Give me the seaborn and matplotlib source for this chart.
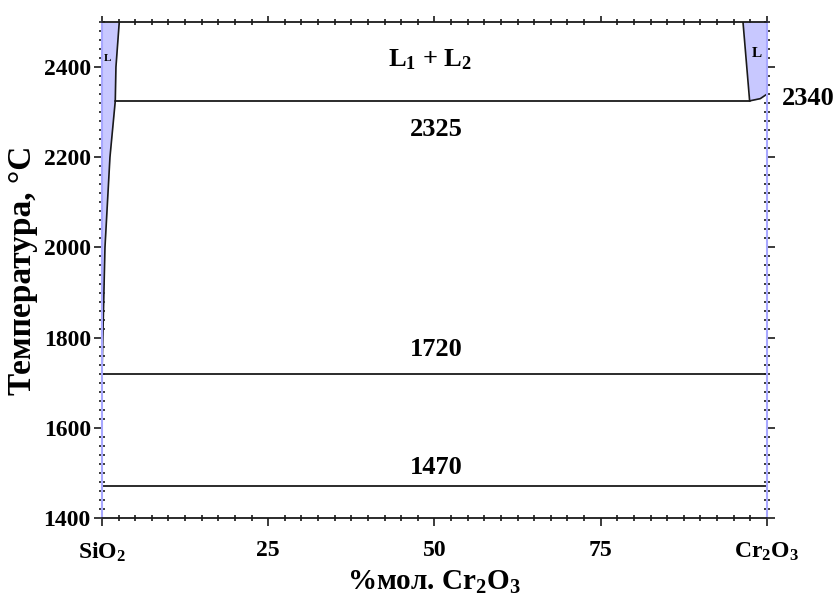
import matplotlib
matplotlib.use("Agg")
import matplotlib.pyplot as plt
import seaborn as sns
import pandas as pd
from matplotlib.ticker import MultipleLocator

# Phase diagram data: SiO2 - Cr2O3 (mol. % Cr2O3, temperature in °C)
left_liquidus_x = [0.0, 0.45, 1.2, 2.0, 2.1, 2.6]
left_liquidus_t = [1720, 2000, 2200, 2325, 2400, 2500]
right_liquidus_x = [96.4, 97.4, 99.0, 100.0]
right_liquidus_t = [2500, 2325, 2330, 2340]

isotherm_t = [2325, 1720, 1470]
isotherm_x0 = [2.0, 0.0, 0.0]
isotherm_x1 = [97.4, 100.0, 100.0]

x_ticks = [0, 25, 50, 75, 100]
x_tick_labels = [r"SiO$_2$", "25", "50", "75", r"Cr$_2$O$_3$"]
y_ticks = [1400, 1600, 1800, 2000, 2200, 2400]

sns.set_theme(style="ticks")
plt.rcParams["font.family"] = ["Liberation Serif", "DejaVu Serif"]
plt.rcParams["font.weight"] = "bold"
plt.rcParams["mathtext.fontset"] = "custom"
plt.rcParams["mathtext.rm"] = "Liberation Serif:bold"
plt.rcParams["mathtext.it"] = "Liberation Serif:bold"
plt.rcParams["mathtext.bf"] = "Liberation Serif:bold"
for key in ("text.color", "axes.labelcolor", "xtick.color", "ytick.color",
            "xtick.labelcolor", "ytick.labelcolor"):
    plt.rcParams[key] = "black"

fig = plt.figure(figsize=(8.4, 5.99), dpi=100)
ax = fig.add_axes([0.1214, 0.1352, 0.7916, 0.8281])

fill_color = "#c8c8ff"
line_color = "#1a1a1a"

# liquid regions near the pure components
ax.fill_betweenx(left_liquidus_t, 0, left_liquidus_x, color=fill_color, lw=0)
ax.fill_betweenx(right_liquidus_t, right_liquidus_x, 100, color=fill_color, lw=0)

liq_left = pd.DataFrame({"x": left_liquidus_x, "t": left_liquidus_t})
liq_right = pd.DataFrame({"x": right_liquidus_x, "t": right_liquidus_t})
sns.lineplot(data=liq_left, x="x", y="t", sort=False, estimator=None,
             color=line_color, lw=1.2, ax=ax)
sns.lineplot(data=liq_right, x="x", y="t", sort=False, estimator=None,
             color=line_color, lw=1.2, ax=ax)

for t, x0, x1 in zip(isotherm_t, isotherm_x0, isotherm_x1):
    seg = pd.DataFrame({"x": [x0, x1], "t": [t, t]})
    sns.lineplot(data=seg, x="x", y="t", sort=False, estimator=None,
                 color=line_color, lw=1.3, ax=ax)

ax.set_xlim(0, 100)
ax.set_ylim(1400, 2500)

# annotations
lbl = dict(ha="center", va="center", fontsize=19, fontweight="bold", color="black")
ax.text(49.3, 2417, r"L$_1$ + L$_2$", **lbl)
ax.text(50.3, 2262, "2325", **lbl)
ax.text(50.3, 1773, "1720", **lbl)
ax.text(50.3, 1512, "1470", **lbl)
ax.text(106.2, 2330, "2340", clip_on=False, **lbl)
ax.text(0.9, 2420, "L", ha="center", va="center", fontsize=8, fontweight="bold")
ax.text(98.5, 2430, "L", ha="center", va="center", fontsize=11, fontweight="bold")

# axes styling
ax.set_xticks(x_ticks)
ax.set_xticklabels(x_tick_labels)
ax.set_yticks(y_ticks)
ax.xaxis.set_minor_locator(MultipleLocator(2.5))
ax.yaxis.set_minor_locator(MultipleLocator(20))
ax.tick_params(which="major", direction="out", length=6, width=1.2, color="#1a1a1a",
               labelsize=17, top=True, right=True)
ax.tick_params(axis="x", which="major", pad=10)
ax.tick_params(axis="y", which="major", pad=2)
ax.tick_params(which="minor", direction="inout", length=4, width=1.2, color="#1a1a1a",
               top=True, right=True)
for lab in ax.get_xticklabels() + ax.get_yticklabels():
    lab.set_fontweight("bold")
# top axis: keep major marks short and inside
for tk in ax.xaxis.get_major_ticks():
    tk.tick2line.set_markersize(4)

for side in ("left", "right"):
    ax.spines[side].set_color("#a8a8ff")
    ax.spines[side].set_linewidth(1.5)
for side in ("top", "bottom"):
    ax.spines[side].set_color("#1a1a1a")
    ax.spines[side].set_linewidth(1.3)

ax.set_xlabel("%мол. Cr$_2$O$_3$", fontsize=21, fontweight="bold", labelpad=4)
ax.set_ylabel("Температура, °C", fontsize=24, fontweight="bold", labelpad=4)

fig.savefig("out.png", dpi=100)
